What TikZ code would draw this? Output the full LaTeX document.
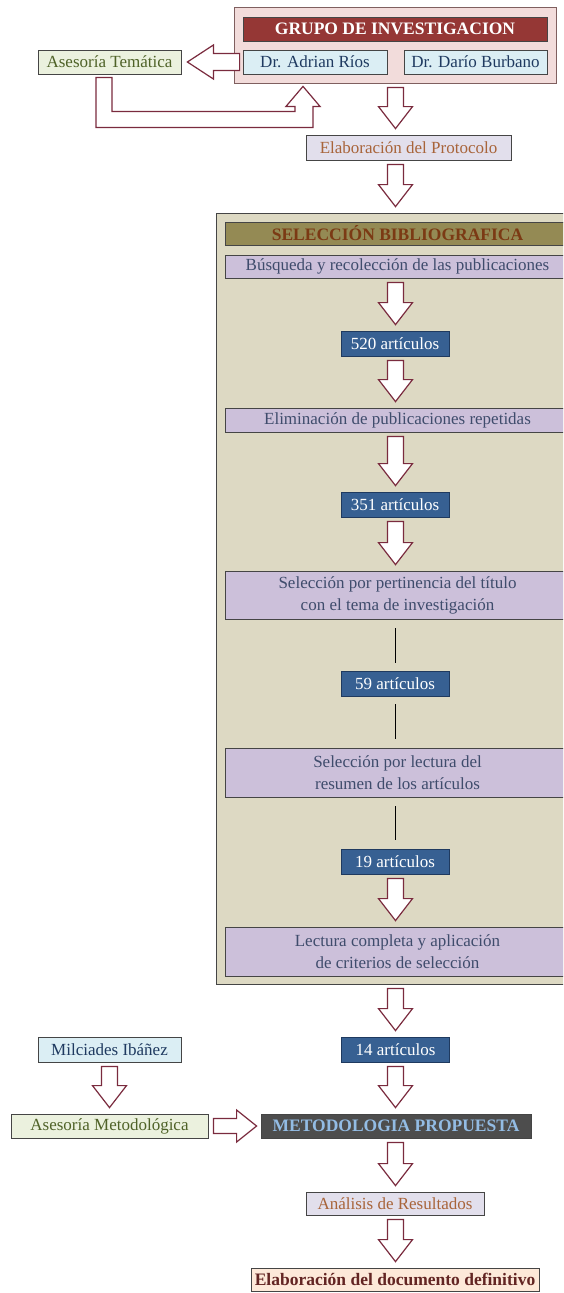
\documentclass[tikz,border=0pt]{standalone}
\usepackage{fontspec}
\setmainfont{Liberation Serif}
\usetikzlibrary{calc}
\definecolor{grpfill}{HTML}{F2DCDB}
\definecolor{grpdraw}{HTML}{7F5F5F}
\definecolor{redbar}{HTML}{953735}
\definecolor{bluefill}{HTML}{DBEEF4}
\definecolor{navytext}{HTML}{1F3A60}
\definecolor{greenfill}{HTML}{EBF1DE}
\definecolor{greentext}{HTML}{4F6228}
\definecolor{grayfill}{HTML}{E2DFEC}
\definecolor{orangetext}{HTML}{A8643A}
\definecolor{selfill}{HTML}{DDD9C3}
\definecolor{olivebar}{HTML}{948A54}
\definecolor{browntext}{HTML}{7B3A14}
\definecolor{lavfill}{HTML}{CCC0DA}
\definecolor{slatetext}{HTML}{3F4C6C}
\definecolor{artfill}{HTML}{376092}
\definecolor{artdraw}{HTML}{1F3A5F}
\definecolor{darkfill}{HTML}{4D4D4D}
\definecolor{lightblue}{HTML}{93BCE4}
\definecolor{peach}{HTML}{FDE9D9}
\definecolor{darkred}{HTML}{632523}
\definecolor{bord}{HTML}{454545}
\definecolor{arrowc}{HTML}{7A2B3E}
\newcommand\fs{\fontsize{17}{22}\selectfont}
\newcommand\fb{\fontsize{17.5}{22}\selectfont\bfseries}
\newcommand\varr[3]{%
  \draw[blk] let \p0=(#1), \p1=(#2.south), \p2=(#3.north) in
  (\x0-8pt,\y1-4pt) -- (\x0+8pt,\y1-4pt) -- (\x0+8pt,\y2+28pt) -- (\x0+17pt,\y2+28pt)
  -- (\x0,\y2+6pt) -- (\x0-17pt,\y2+28pt) -- (\x0-8pt,\y2+28pt) -- cycle;}
\begin{document}
\begin{tikzpicture}[x=1pt,y=-1pt,
  box/.style={draw=bord, line width=0.8pt, inner sep=0pt, align=center, font=\fs, minimum height=24pt},
  blk/.style={draw=arrowc, fill=white, line width=1.2pt, line join=miter},
  bluebox/.style={box, fill=bluefill, text=navytext},
  greenbox/.style={box, fill=greenfill, text=greentext},
  graybox/.style={box, fill=grayfill, text=orangetext},
  lavbox/.style={box, fill=lavfill, text=slatetext, minimum width=345pt},
  artbox/.style={box, draw=artdraw, fill=artfill, text=white, minimum width=108pt, minimum height=25pt},
  thinline/.style={draw=black, line width=1pt}]
\clip (0,0) rectangle (563,1293);
\fill[white] (0,0) rectangle (563,1293);
\coordinate (col) at (395.5,0);
% top group
\node[box, draw=grpdraw, fill=grpfill, minimum width=322pt, minimum height=76pt] (group) at (395,45) {};
\node[box, draw=bord, fill=redbar, text=white, font=\fb, minimum width=304pt] (title) at (395,29) {GRUPO DE INVESTIGACION};
\node[greenbox, minimum width=143pt] (at) at (109.5,62) {Asesoría Temática};
\draw[blk] let \p1=(at.east), \p2=(group.west) in
  (\x2+6pt,\y1+8.5pt) -- (\x1+32pt,\y1+8.5pt) -- (\x1+32pt,\y1+17pt) -- (\x1+6pt,\y1)
  -- (\x1+32pt,\y1-17pt) -- (\x1+32pt,\y1-8.5pt) -- (\x2+6pt,\y1-8.5pt) -- cycle;
\node[bluebox, minimum width=144pt] (adrian) at (315,62) {Dr. Adrian Ríos};
\node[bluebox, minimum width=143pt] (dario) at (475.5,62) {Dr. Darío Burbano};
\draw[blk] let \p1=(at.south), \p2=(adrian.south), \p3=(group.south) in
  (\x1-13.5pt,\y1-3pt) -- (\x1+2.5pt,\y1-3pt) -- (\x1+2.5pt,\y1-37pt) -- (\x2-20pt,\y1-37pt)
  -- (\x2-20pt,\y1-32pt) -- (\x2-29pt,\y1-32pt) -- (\x2-12pt,\y3-3pt) -- (\x2+5pt,\y1-32pt)
  -- (\x2-2pt,\y1-32pt) -- (\x2-2pt,\y1-53pt) -- (\x1-13.5pt,\y1-53pt) -- cycle;
\node[graybox, minimum width=205pt, minimum height=25pt] (prot) at (408.5,147.5) {Elaboración del Protocolo};
% selection block
\node[box, draw=bord, fill=selfill, minimum width=370pt, minimum height=771pt] (sel) at (401,598.5) {};
\node[box, fill=olivebar, text=browntext, font=\fb, minimum width=345pt, minimum height=23pt] (seltitle) at (397.5,233.5) {SELECCIÓN BIBLIOGRAFICA};
\node[lavbox, minimum height=23pt] (busq) at (397.5,266.5) {Búsqueda y recolección de las publicaciones};
\node[artbox] (a520) at (395,343.5) {520 artículos};
\node[lavbox] (elim) at (397.5,420) {Eliminación de publicaciones repetidas};
\node[artbox] (a351) at (395,504.5) {351 artículos};
\node[lavbox, minimum height=48pt] (pert) at (397.5,595) {Selección por pertinencia del título\\con el tema de investigación};
\node[artbox] (a59) at (395,683.5) {59 artículos};
\node[lavbox, minimum height=49pt] (lect) at (397.5,772.5) {Selección por lectura del\\resumen de los artículos};
\node[artbox] (a19) at (395,861.5) {19 artículos};
\node[lavbox, minimum height=49pt] (lcomp) at (397.5,951.5) {Lectura completa y aplicación\\de criterios de selección};
% below
\node[artbox] (a14) at (395.5,1049.5) {14 artículos};
\node[box, fill=darkfill, text=lightblue, font=\fb, minimum width=270pt] (met) at (396,1126) {METODOLOGIA PROPUESTA};
\node[bluebox, minimum width=143pt, minimum height=25pt] (mil) at (109.5,1049.5) {Milciades Ibáñez};
\node[greenbox, minimum width=197pt] (am) at (109.5,1126) {Asesoría Metodológica};
\node[graybox, minimum width=178pt, minimum height=23pt] (anal) at (395,1203.5) {Análisis de Resultados};
\node[box, fill=peach, text=darkred, font=\fb, minimum width=288pt, minimum height=23pt] (final) at (395,1279.5) {Elaboración del documento definitivo};
% connectors
\varr{col}{group}{prot}
\varr{col}{prot}{sel}
\varr{col}{busq}{a520}
\varr{col}{a520}{elim}
\varr{col}{elim}{a351}
\varr{col}{a351}{pert}
\draw[thinline, shorten <=9pt, shorten >=8pt] (a59.north |- pert.south) -- (a59.north);
\draw[thinline, shorten <=8pt, shorten >=9pt] (a59.south) -- (a59.south |- lect.north);
\draw[thinline, shorten <=9pt, shorten >=9pt] (a19.north |- lect.south) -- (a19.north);
\varr{col}{a19}{lcomp}
\varr{col}{sel}{a14}
\varr{col}{a14}{met}
\varr{mil}{mil}{am}
\varr{col}{met}{anal}
\varr{col}{anal}{final}
\draw[blk] let \p1=(am.east), \p2=(met.west) in
  (\x1+5pt,\y1+7.5pt) -- (\x2-24pt,\y1+7.5pt) -- (\x2-24pt,\y1+16pt) -- (\x2-4pt,\y1)
  -- (\x2-24pt,\y1-16pt) -- (\x2-24pt,\y1-7.5pt) -- (\x1+5pt,\y1-7.5pt) -- cycle;
\end{tikzpicture}
\end{document}
